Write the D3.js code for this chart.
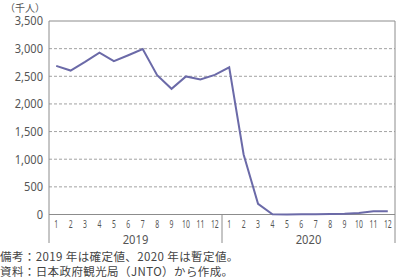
<!DOCTYPE html>
<html><head><meta charset="utf-8">
<script src="https://cdn.jsdelivr.net/npm/d3@7"></script>
<style>
html,body{margin:0;padding:0;background:#fff;}
svg{display:block;}
.cond{font-family:"Noto Sans","DejaVu Sans",sans-serif;}
.jp{font-family:"Noto Sans CJK JP",sans-serif;}
</style>
</head><body>
<script>
const months = ["1","2","3","4","5","6","7","8","9","10","11","12"];
const years = ["2019","2020"];
const values2019 = [2689, 2604, 2760, 2927, 2773, 2880, 2991, 2520, 2273, 2497, 2441, 2526];
const values2020 = [2661, 1085, 194, 2.9, 1.7, 2.6, 3.8, 8.7, 13.7, 27.4, 56.7, 58.7];
const yTicks = [0, 500, 1000, 1500, 2000, 2500, 3000, 3500];
const unitLabel = "（千人）";
const notes = ["備考：2019 年は確定値、2020 年は暫定値。", "資料：日本政府観光局（JNTO）から作成。"];

const W = 396, H = 279;
const L = 49, R = 395, T = 21, B = 214.5;
const svg = d3.select("body").append("svg").attr("width", W).attr("height", H);

function condense(sel, f) {
  sel.each(function () {
    const w = this.getComputedTextLength();
    d3.select(this).attr("textLength", w * f).attr("lengthAdjust", "spacingAndGlyphs");
  });
}

const allVals = values2019.concat(values2020);
const idx = d3.range(allVals.length);
const x = d3.scaleBand().domain(idx).range([L, R]).padding(0);
const y = d3.scaleLinear().domain([0, 3500]).range([B, T]);

// grid
svg.append("g").selectAll("line").data(yTicks.filter(d => d > 0 && d < 3500)).join("line")
  .attr("x1", L).attr("x2", R).attr("y1", d => y(d)).attr("y2", d => y(d))
  .attr("stroke", "#8a8a8a").attr("stroke-width", 0.8).attr("stroke-dasharray", "3,2");

// frame
const frameColor = "#8c8c8c";
svg.append("line").attr("x1", L).attr("x2", R).attr("y1", y(3500)).attr("y2", y(3500)).attr("stroke", frameColor).attr("stroke-width", 1);
svg.append("line").attr("x1", R).attr("x2", R).attr("y1", y(3500)).attr("y2", 243).attr("stroke", frameColor).attr("stroke-width", 1);
svg.append("line").attr("x1", L).attr("x2", L).attr("y1", y(3500)).attr("y2", 243).attr("stroke", frameColor).attr("stroke-width", 1);
svg.append("line").attr("x1", L).attr("x2", R).attr("y1", y(0)).attr("y2", y(0)).attr("stroke", frameColor).attr("stroke-width", 1);
const sepX = x(12);
svg.append("line").attr("x1", sepX).attr("x2", sepX).attr("y1", y(0)).attr("y2", 243).attr("stroke", frameColor).attr("stroke-width", 1);

// y axis labels
const yAxis = d3.axisLeft(y).tickValues(yTicks).tickSize(0).tickPadding(6).tickFormat(d3.format(","));
const ga = svg.append("g").attr("transform", `translate(${L},0)`).call(yAxis);
ga.select(".domain").remove();
ga.attr("font-family", null);
ga.selectAll("text").attr("class", "cond").attr("font-size", 12).attr("fill", "#555").call(condense, 0.92);

// month labels
const xAxis = d3.axisBottom(x).tickSize(0).tickPadding(0).tickFormat(i => months[i % 12]);
const gx = svg.append("g").attr("transform", `translate(0,${B})`).call(xAxis);
gx.select(".domain").remove();
gx.attr("font-family", null);
gx.selectAll("text").attr("class", "cond").attr("font-size", 11).attr("fill", "#555")
  .attr("dy", null).attr("y", 13).call(condense, 0.62);

// year labels
svg.append("g").selectAll("text").data(years).join("text")
  .attr("class", "cond")
  .attr("x", (d, i) => (x(i * 12) + x(i * 12 + 11) + x.bandwidth()) / 2)
  .attr("y", 244).attr("text-anchor", "middle")
  .attr("font-size", 13).attr("fill", "#555").text(d => d).call(condense, 0.86);

// line
const line = d3.line().x(i => x(i) + x.bandwidth() / 2).y(i => y(allVals[i]));
svg.append("path").datum(idx).attr("d", line).attr("fill", "none")
  .attr("stroke", "#6b6aa8").attr("stroke-width", 2).attr("stroke-linejoin", "miter");

// unit label
svg.append("text").attr("class", "jp").attr("x", 5).attr("y", 11.5).attr("font-size", 10).attr("fill", "#555").text(unitLabel);

// notes
svg.append("g").selectAll("text").data(notes).join("text").attr("class", "jp")
  .attr("x", 0).attr("y", (d, i) => 260.5 + i * 15).attr("font-size", 11.5)
  .attr("letter-spacing", 0.4).attr("fill", "#444").text(d => d);
</script>
</body></html>
